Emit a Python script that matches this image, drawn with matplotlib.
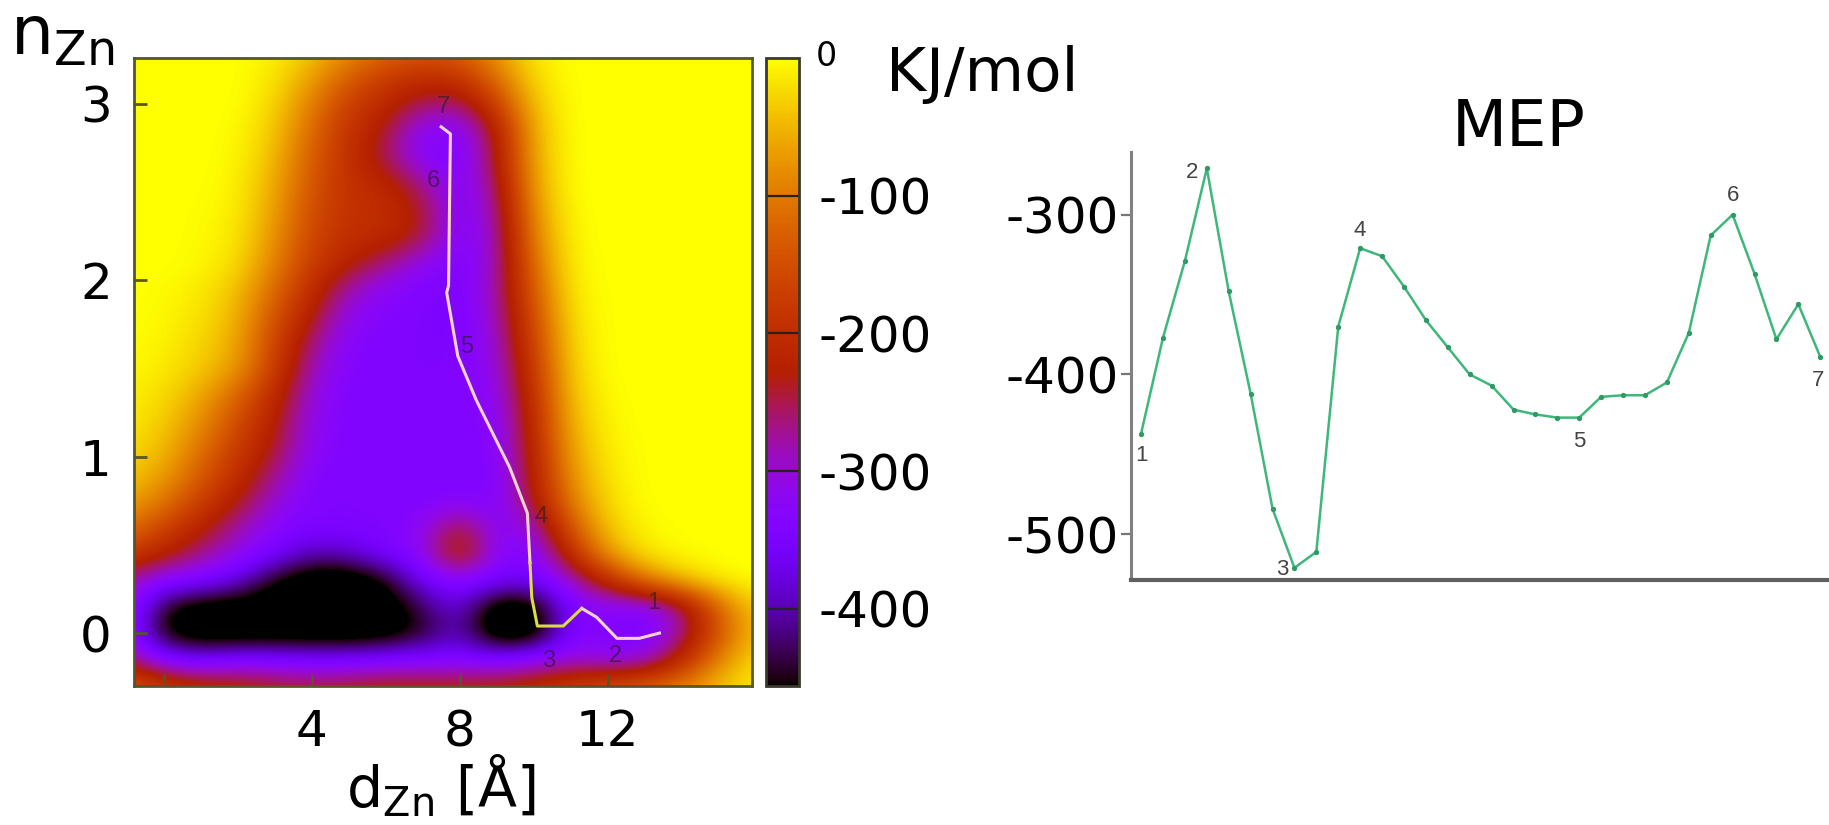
import numpy as np
import matplotlib
matplotlib.use('Agg')
import matplotlib.pyplot as plt

plt.rcParams['axes.unicode_minus'] = False

# free energy surface (kJ/mol), rows = n_Zn from -0.30 to 3.30 step 0.15, cols = d_Zn from -1 to 16 step 1
fes_x = np.arange(-1, 17, 1.0)
fes_y = np.round(np.arange(-0.30, 3.31, 0.15), 2)
fes = np.array([
    [-130, -170, -200, -210, -230, -240, -230, -220, -220, -220, -220, -200, -170, -140, -120, -90, -40, -10],
    [-250, -340, -360, -340, -340, -350, -350, -340, -340, -340, -340, -320, -300, -320, -310, -210, -90, -20],
    [-300, -470, -500, -500, -500, -500, -500, -490, -450, -390, -510, -500, -340, -330, -350, -280, -140, -40],
    [-290, -450, -490, -490, -490, -500, -500, -490, -430, -370, -500, -490, -340, -330, -340, -270, -120, -30],
    [-280, -330, -340, -380, -460, -500, -500, -460, -360, -330, -350, -360, -300, -200, -100, -40, -10, 0],
    [-170, -220, -270, -310, -350, -400, -390, -350, -320, -180, -330, -340, -200, -70, -15, -3, 0, 0],
    [-110, -160, -220, -280, -330, -345, -340, -340, -320, -230, -330, -300, -140, -35, -5, 0, 0, 0],
    [-60, -100, -170, -230, -300, -340, -340, -340, -340, -330, -340, -240, -95, -22, 0, 0, 0, 0],
    [-35, -65, -130, -200, -270, -335, -340, -340, -340, -340, -340, -225, -75, -15, 0, 0, 0, 0],
    [-20, -45, -105, -175, -240, -320, -340, -340, -340, -340, -335, -215, -60, -10, 0, 0, 0, 0],
    [-12, -32, -80, -150, -225, -315, -340, -340, -340, -340, -330, -205, -48, -6, 0, 0, 0, 0],
    [-8, -22, -58, -120, -205, -305, -340, -340, -340, -340, -320, -195, -38, -3, 0, 0, 0, 0],
    [-4, -12, -35, -70, -170, -290, -335, -340, -340, -340, -310, -180, -30, 0, 0, 0, 0, 0],
    [-2, -8, -25, -60, -160, -265, -330, -340, -340, -345, -300, -165, -24, 0, 0, 0, 0, 0],
    [0, -5, -18, -50, -140, -230, -315, -335, -340, -350, -290, -150, -18, 0, 0, 0, 0, 0],
    [0, -3, -12, -40, -115, -200, -285, -325, -340, -345, -285, -130, -12, 0, 0, 0, 0, 0],
    [0, 0, -5, -20, -90, -175, -220, -265, -315, -345, -290, -110, -8, 0, 0, 0, 0, 0],
    [0, 0, -3, -15, -75, -160, -200, -205, -240, -340, -290, -90, -5, 0, 0, 0, 0, 0],
    [0, 0, -2, -10, -65, -150, -195, -200, -235, -340, -280, -75, -3, 0, 0, 0, 0, 0],
    [0, 0, 0, -8, -55, -140, -195, -210, -270, -340, -260, -62, 0, 0, 0, 0, 0, 0],
    [0, 0, 0, -5, -45, -130, -195, -255, -330, -345, -240, -55, 0, 0, 0, 0, 0, 0],
    [0, 0, 0, -3, -35, -115, -190, -240, -325, -335, -230, -50, 0, 0, 0, 0, 0, 0],
    [0, 0, 0, 0, -25, -95, -170, -210, -260, -265, -170, -38, 0, 0, 0, 0, 0, 0],
    [0, 0, 0, 0, -15, -65, -130, -175, -200, -190, -110, -22, 0, 0, 0, 0, 0, 0],
    [0, 0, 0, 0, -8, -35, -80, -115, -130, -125, -70, -12, 0, 0, 0, 0, 0, 0],
], dtype=float)

# minimum energy path drawn on the surface
path_x = [7.5, 7.75, 7.7, 7.65, 7.95, 8.45, 9.35, 9.83, 9.9, 9.95, 10.1, 10.8, 11.3, 11.7, 12.25, 12.85, 13.4]
path_y = [2.87, 2.83, 1.97, 1.93, 1.57, 1.32, 0.94, 0.68, 0.4, 0.2, 0.04, 0.04, 0.14, 0.09, -0.03, -0.03, 0.0]
path_labels = ['7', '6', '5', '4', '3', '2', '1']
path_label_x = [7.55, 7.3, 8.2, 10.2, 10.4, 12.2, 13.25]
path_label_y = [2.98, 2.56, 1.62, 0.66, -0.16, -0.13, 0.17]

# MEP profile
mep_energy = [-437, -377, -329, -271, -348, -412, -484, -521, -511, -370, -321, -326, -345, -366, -383, -400,
              -407, -422, -425, -427, -427, -414, -413, -413, -405, -374, -313, -300, -337, -378, -356, -389]
mep_labels = ['1', '2', '3', '4', '5', '6', '7']
mep_label_idx = [0, 3, 7, 10, 20, 27, 31]
mep_label_off = [(0, -22), (-15, -4), (-12, -2), (0, 18), (0, -24), (0, 19), (-2, -24)]

W, H = 1829, 825
fig = plt.figure(figsize=(W / 100, H / 100), dpi=100)
font = 'DejaVu Sans'
frame_c = '#55552e'

# ---- free energy surface ----
ax = fig.add_axes([134 / W, 1 - 686 / H, (752 - 134) / W, (686 - 58) / H])
vmin, vmax = -456, 0
dx, dy = 0.5, 0.075
im = ax.imshow(fes, origin='lower', cmap='gnuplot', vmin=vmin, vmax=vmax, aspect='auto',
               interpolation='bicubic',
               extent=(fes_x[0] - dx, fes_x[-1] + dx, fes_y[0] - dy, fes_y[-1] + dy))
ax.set_xlim(-0.8, 15.9)
ax.set_ylim(-0.30, 3.26)

px = np.array(path_x)
py = np.array(path_y)
ax.plot(px[:9], py[:9], color='#f5d3cc', lw=2.2, zorder=3)
ax.plot(px[8:13], py[8:13], color='#d9dc48', lw=2.2, zorder=3)
ax.plot(px[12:], py[12:], color='#f5d3cc', lw=2.2, zorder=3)
for t, lx, ly in zip(path_labels, path_label_x, path_label_y):
    ax.text(lx, ly, t, fontsize=17, color='#2a1a2a', alpha=0.6, ha='center', va='center',
            family='Liberation Sans', zorder=4)

ax.set_xticks([0, 4, 8, 12])
ax.set_xticklabels(['', '4', '8', '12'])
ax.set_yticks([0, 1, 2, 3])
ax.tick_params(axis='both', direction='in', length=9, width=2, color=frame_c,
               labelsize=36, pad=14, labelfontfamily=font)
ax.tick_params(axis='x', pad=16)
ax.tick_params(axis='y', pad=16)
for s in ax.spines.values():
    s.set_color(frame_c)
    s.set_linewidth(2)

# ---- colour bar ----
cax = fig.add_axes([766 / W, 1 - 686 / H, 33 / W, (686 - 58) / H])
cb = fig.colorbar(im, cax=cax, ticks=[-100, -200, -300, -400])
cb.outline.set_edgecolor('#3a3a2a')
cb.outline.set_linewidth(2)
cax.tick_params(direction='in', length=24, width=1.6, color='#2a2020', labelsize=36, pad=14,
                labelfontfamily=font)
fig.text(826 / W, 1 - 57 / H, '0', fontsize=24, ha='center', va='center', family=font)
fig.text(886 / W, 1 - 74 / H, 'KJ/mol', fontsize=44, ha='left', va='center', family=font)

fig.text(10 / W, 1 - 55 / H, r'$\mathregular{n_{Zn}}$', fontsize=49, ha='left', va='baseline', family=font)
fig.text(441 / W, 1 - 808 / H, r'$\mathregular{d_{Zn}}$ [Å]', fontsize=41, ha='center', va='baseline',
         family=font)

# ---- MEP profile ----
ax2 = fig.add_axes([1131 / W, 1 - 580 / H, (W - 1131) / W, (580 - 152) / H])
idx = np.arange(len(mep_energy))
ax2.plot(idx, mep_energy, color='#3db87a', lw=1.8, marker='o', ms=2.8, mfc='#2f9a63', mec='#2f9a63')
for t, i, off in zip(mep_labels, mep_label_idx, mep_label_off):
    ax2.annotate(t, (idx[i], mep_energy[i]), xytext=off, textcoords='offset pixels', fontsize=16,
                 color='#444444', ha='center', va='center', family='Liberation Sans')
ax2.set_xlim(-0.46, 31.4)
ax2.set_ylim(-528.6, -260.8)
ax2.set_yticks([-300, -400, -500])
ax2.set_xticks([])
ax2.tick_params(axis='y', direction='out', length=7, width=1.6, color='#777777', labelsize=36, pad=2,
                labelfontfamily=font)
ax2.spines['top'].set_visible(False)
ax2.spines['right'].set_visible(False)
ax2.spines['left'].set_color('#808080')
ax2.spines['left'].set_linewidth(2.2)
ax2.spines['bottom'].set_color('#606060')
ax2.spines['bottom'].set_linewidth(3)
fig.text(1519 / W, 1 - 128 / H, 'MEP', fontsize=46, ha='center', va='center', family=font)

fig.savefig('out.png', dpi=100)
